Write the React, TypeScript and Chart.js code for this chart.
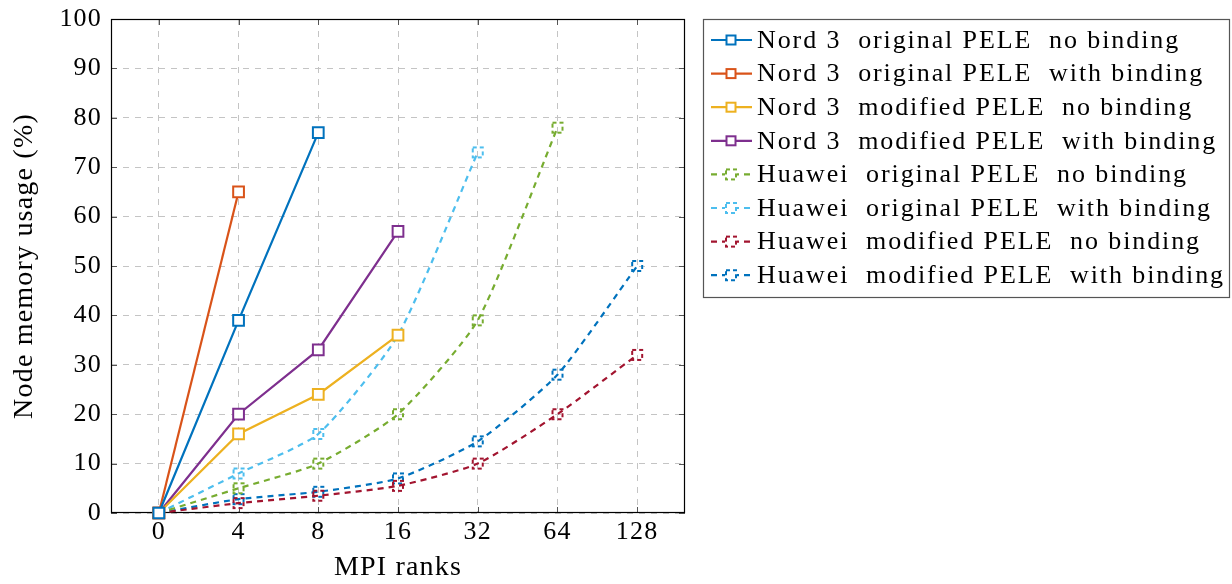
import React, { useEffect, useRef } from "react";
import { Chart, registerables } from "chart.js";

Chart.register(...registerables);

const rankLabels = ["0", "4", "8", "16", "32", "64", "128"];
const yTicks = [0, 10, 20, 30, 40, 50, 60, 70, 80, 90, 100];

const seriesNames = [
  "Nord 3  original PELE  no binding",
  "Nord 3  original PELE  with binding",
  "Nord 3  modified PELE  no binding",
  "Nord 3  modified PELE  with binding",
  "Huawei  original PELE  no binding",
  "Huawei  original PELE  with binding",
  "Huawei  modified PELE  no binding",
  "Huawei  modified PELE  with binding",
];

const nord3OrigNoBind = [0, 39, 77];
const nord3OrigBind = [0, 65];
const nord3ModNoBind = [0, 16, 24, 36];
const nord3ModBind = [0, 20, 33, 57];
const huaweiOrigNoBind = [0, 5, 10, 20, 39, 78];
const huaweiOrigBind = [0, 8, 16, 36, 73];
const huaweiModNoBind = [0, 2, 3.5, 5.5, 10, 20, 32];
const huaweiModBind = [0, 2.8, 4.3, 7, 14.5, 28, 50];

const seriesValues = [
  nord3OrigNoBind,
  nord3OrigBind,
  nord3ModNoBind,
  nord3ModBind,
  huaweiOrigNoBind,
  huaweiOrigBind,
  huaweiModNoBind,
  huaweiModBind,
];

const seriesColors = [
  "#0072BD",
  "#D95319",
  "#EDB120",
  "#7E2F8E",
  "#77AC30",
  "#4DBEEE",
  "#A2142F",
  "#0072BD",
];

const FONT = "'Liberation Serif', 'Times New Roman', serif";

function dashedSquare(color: string): HTMLCanvasElement {
  const c = document.createElement("canvas");
  c.width = 16;
  c.height = 16;
  const g = c.getContext("2d")!;
  g.strokeStyle = color;
  g.lineWidth = 2;
  g.setLineDash([4, 3]);
  g.strokeRect(3, 3, 10, 10);
  return c;
}

export default function App() {
  const ref = useRef<HTMLCanvasElement | null>(null);

  useEffect(() => {
    document.body.style.margin = "0";
    const canvas = ref.current!;
    const markers = seriesColors.map((c, i) => (i >= 4 ? dashedSquare(c) : null));

    const datasets = seriesValues.map((vals, i) => {
      const huawei = i >= 4;
      return {
        label: seriesNames[i],
        data: vals.map((v, k) => ({ x: k, y: v })),
        borderColor: seriesColors[i],
        backgroundColor: seriesColors[i],
        borderWidth: 2.2,
        borderDash: huawei ? [6, 5] : [],
        tension: huawei ? 0.2 : 0,
        pointStyle: huawei ? (markers[i] as any) : "rect",
        pointRadius: huawei ? 6 : 7.6,
        pointBorderWidth: 2,
        pointBorderColor: seriesColors[i],
        pointBackgroundColor: "#ffffff",
        clip: false as any,
        fill: false,
      };
    });

    const spacingPlugin = {
      id: "spacing",
      beforeDraw(chart: any) {
        (chart.ctx as any).letterSpacing = "1.2px";
      },
    };

    const framePlugin = {
      id: "frame",
      beforeDatasetsDraw(chart: any) {
        const { ctx, chartArea } = chart;
        const { left, right, top, bottom } = chartArea;
        ctx.save();
        ctx.strokeStyle = "#555555";
        ctx.lineWidth = 1;
        const xs = chart.scales.x;
        const ys = chart.scales.y;
        ctx.beginPath();
        rankLabels.forEach((_, i) => {
          const px = Math.round(xs.getPixelForValue(i)) + 0.5;
          ctx.moveTo(px, bottom);
          ctx.lineTo(px, bottom - 6);
          ctx.moveTo(px, top);
          ctx.lineTo(px, top + 6);
        });
        yTicks.forEach((v) => {
          const py = Math.round(ys.getPixelForValue(v)) + 0.5;
          ctx.moveTo(left, py);
          ctx.lineTo(left + 6, py);
          ctx.moveTo(right, py);
          ctx.lineTo(right - 6, py);
        });
        ctx.stroke();
        ctx.strokeStyle = "#000000";
        ctx.lineWidth = 1.2;
        ctx.strokeRect(left + 0.5, top + 0.5, right - left - 1, bottom - top - 1);
        ctx.restore();
      },
    };

    const legendPlugin = {
      id: "customLegend",
      afterDraw(chart: any) {
        const ctx = chart.ctx as CanvasRenderingContext2D;
        ctx.save();
        ctx.strokeStyle = "#555555";
        ctx.lineWidth = 1.2;
        ctx.strokeRect(703.5, 19.5, 526, 278);
        chart.data.datasets.forEach((ds: any, i: number) => {
          const y = 40 + i * 33.6;
          ctx.save();
          ctx.strokeStyle = ds.borderColor;
          ctx.lineWidth = 2.2;
          ctx.setLineDash(ds.borderDash || []);
          ctx.beginPath();
          ctx.moveTo(711, y);
          ctx.lineTo(752, y);
          ctx.stroke();
          ctx.setLineDash([]);
          ctx.lineWidth = 2;
          if (i < 4) {
            ctx.fillStyle = "#ffffff";
            ctx.fillRect(726.5, y - 4.5, 9, 9);
            ctx.strokeRect(726.5, y - 4.5, 9, 9);
          } else {
            ctx.fillStyle = "#ffffff";
            ctx.fillRect(725, y - 6, 12, 12);
            ctx.drawImage(markers[i] as HTMLCanvasElement, 731 - 8, y - 8);
          }
          ctx.restore();
          ctx.fillStyle = "#000000";
          ctx.font = `26px ${FONT}`;
          (ctx as any).letterSpacing = "1.9px";
          ctx.textBaseline = "middle";
          ctx.textAlign = "left";
          ctx.fillText(ds.label, 757, y + 1);
        });
        ctx.restore();
        (ctx as any).letterSpacing = "0px";
      },
    };

    const chart = new Chart(canvas, {
      type: "line",
      data: { datasets: datasets as any },
      options: {
        animation: false,
        responsive: false,
        maintainAspectRatio: false,
        layout: { padding: { left: 0, top: 19, right: 547, bottom: 0 } },
        plugins: {
          legend: { display: false },
          tooltip: { enabled: false },
        },
        scales: {
          x: {
            type: "linear",
            min: -0.6,
            max: 6.6,
            afterFit: (s: any) => {
              s.height = 71;
              s.paddingLeft = 0;
              s.paddingRight = 0;
            },
            afterBuildTicks: (s: any) => {
              s.ticks = rankLabels.map((_, i) => ({ value: i }));
            },
            ticks: {
              callback: (v: any) => rankLabels[Math.round(Number(v))] ?? "",
              color: "#000000",
              font: { family: FONT, size: 26 },
              padding: 4,
              maxRotation: 0,
              autoSkip: false,
            },
            grid: { color: "#c4c4c4", lineWidth: 1, drawTicks: false },
            border: { display: false, dash: [6, 6] },
            title: {
              display: true,
              text: "MPI ranks",
              color: "#000000",
              font: { family: FONT, size: 28 },
              padding: { top: 0, bottom: 0 },
            },
          },
          y: {
            type: "linear",
            min: 0,
            max: 100,
            afterFit: (s: any) => {
              s.width = 111;
              s.paddingTop = 0;
              s.paddingBottom = 0;
            },
            afterBuildTicks: (s: any) => {
              s.ticks = yTicks.map((v) => ({ value: v }));
            },
            ticks: {
              color: "#000000",
              font: { family: FONT, size: 26 },
              padding: 9,
            },
            grid: { color: "#c4c4c4", lineWidth: 1, drawTicks: false },
            border: { display: false, dash: [6, 6] },
            title: {
              display: true,
              text: "Node memory usage (%)",
              color: "#000000",
              font: { family: FONT, size: 28 },
              padding: { top: 8, bottom: 0 },
            },
          },
        },
      },
      plugins: [spacingPlugin, framePlugin, legendPlugin],
    });

    return () => chart.destroy();
  }, []);

  return (
    <div style={{ width: 1232, height: 584, position: "relative" }}>
      <canvas ref={ref} width={1232} height={584} style={{ display: "block" }} />
    </div>
  );
}
